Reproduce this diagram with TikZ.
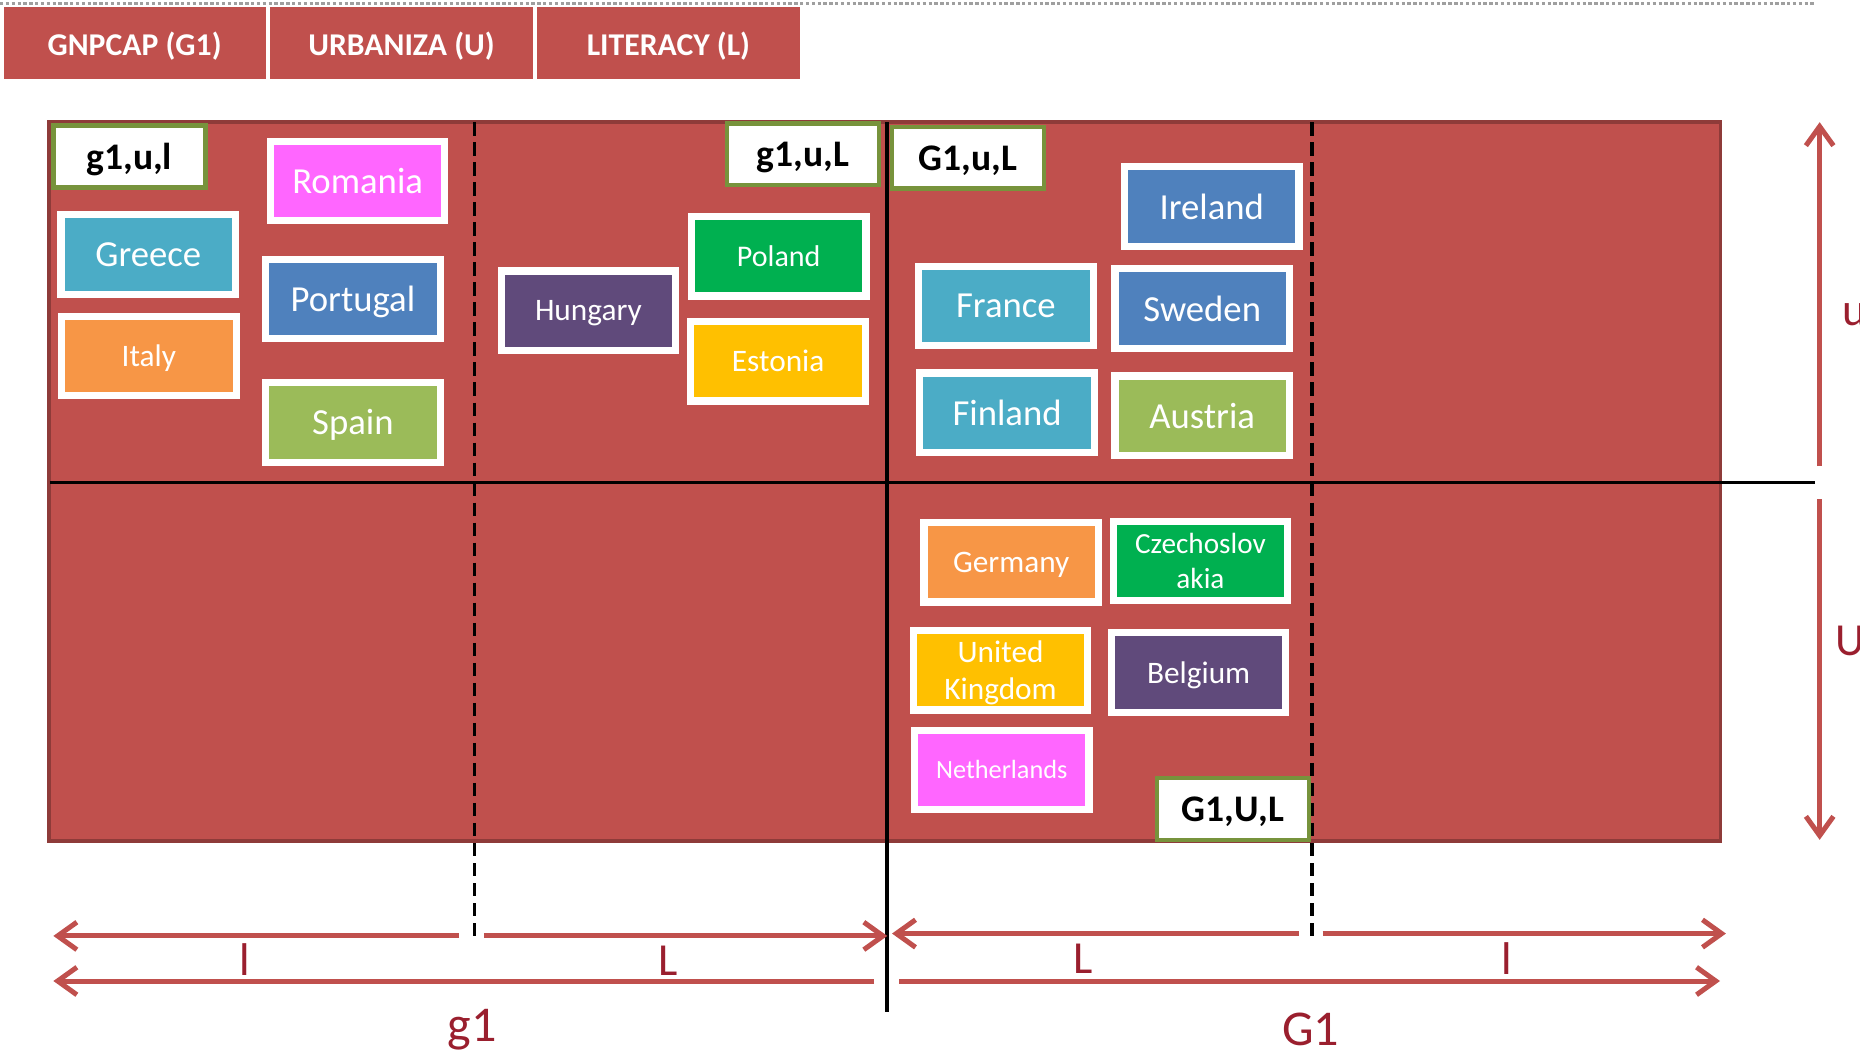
\documentclass[tikz,border=0pt]{standalone}
\usepackage{fontspec}
\setmainfont{Carlito}
\usepackage{tikz}
\usetikzlibrary{arrows.meta,calc,shadows}
\definecolor{tabred}{HTML}{C0504D}
\definecolor{edgered}{HTML}{8E3B39}
\definecolor{labelred}{HTML}{9A1F2E}
\definecolor{tagolive}{HTML}{77933C}
\definecolor{cmagenta}{HTML}{FF66FF}
\definecolor{cteal}{HTML}{4BACC6}
\definecolor{cblue}{HTML}{4F81BD}
\definecolor{corange}{HTML}{F79646}
\definecolor{cgreen}{HTML}{9BBB59}
\definecolor{cpurple}{HTML}{604A7B}
\definecolor{cemerald}{HTML}{00B050}
\definecolor{cgold}{HTML}{FFC000}
\tikzset{
    country/.style args={#1}{fill=#1, draw=white, line width=1.7pt, text=white, minimum width=1.47cm, minimum height=0.67cm, inner sep=1pt, text depth=0pt, align=center, drop shadow={shadow xshift=0.4pt, shadow yshift=-0.7pt, opacity=0.25}},
    group/.style={fill=white, draw=tagolive, line width=1.1pt, minimum width=1.28cm, minimum height=0.52cm, text depth=0pt, font=\fontsize{9}{10}\selectfont\bfseries},
    tab/.style={fill=tabred, draw=white, line width=0.6pt, text=white, minimum width=2.23cm, minimum height=0.63cm, text depth=0pt, font=\fontsize{7.6}{9}\selectfont\bfseries},
    axis/.style={draw=tabred, line width=1.2pt, -{Straight Barb[length=4.6pt,width=6.6pt]}},
    axlabel/.style={text=labelred, font=\fontsize{11}{13}\selectfont}
}

\begin{document}
\begin{tikzpicture}[x=0.01cm, y=-0.01cm]
\useasboundingbox (0,0) rectangle (1568,888);
\draw[gray!75, line width=0.8pt, dash pattern=on 0.8pt off 0.6pt] (0,3) -- (1530,3);
\node[tab] (gnpcap) at (113.5,36.5) {GNPCAP (G1)};
\node[tab] (urbaniza) at (338.5,36.5) {URBANIZA (U)};
\node[tab] (literacy) at (563.5,36.5) {LITERACY (L)};
\node[fill=tabred, draw=edgered, line width=0.9pt, minimum width=14.08cm, minimum height=6.06cm] (plane) at (746,406) {};
\path
(42,407) coordinate (ax-w) (1530,407) coordinate (ax-e)
(748,103) coordinate (ax-n) (748,853) coordinate (ax-s)
(400,103) coordinate (l-n) (400,792) coordinate (l-s)
(1106,103) coordinate (L-n) (1106,790) coordinate (L-s);
\draw[line width=0.7pt] (ax-w) -- (ax-e);
\draw[line width=1pt] (ax-n) -- (ax-s);
\draw[line width=0.8pt, dash pattern=on 3.2pt off 1.6pt] (l-n) -- (l-s) (L-n) -- (L-s);
\path
(45,789) coordinate (gl-w) (387,789) coordinate (gl-e)
(408,789) coordinate (gL-w) (748,789) coordinate (gL-e)
(752,787) coordinate (GL-w) (1095,787) coordinate (GL-e)
(1115,787) coordinate (Gl-w) (1455,787) coordinate (Gl-e)
(45,827) coordinate (g-w) (737,827) coordinate (g-e)
(758,827) coordinate (G-w) (1450,827) coordinate (G-e)
(1534,103) coordinate (u-n) (1534,393) coordinate (u-s)
(1534,421) coordinate (U-n) (1534,708) coordinate (U-s);
\foreach \from/\to in {gl-e/gl-w, gL-w/gL-e, GL-e/GL-w, Gl-w/Gl-e, g-e/g-w, G-w/G-e, u-s/u-n, U-n/U-s}
    \draw[axis] (\from) -- (\to);
\node[axlabel] (lab-l1) at (206,809) {l};
\node[axlabel] (lab-L1) at (563,810) {L};
\node[axlabel] (lab-L2) at (913,808) {L};
\node[axlabel] (lab-l2) at (1270,808) {l};
\node[axlabel, font=\fontsize{12}{14}\selectfont] (lab-g) at (398,868) {g1};
\node[axlabel, font=\fontsize{12}{14}\selectfont] (lab-G) at (1105,868) {G1};
\node[axlabel] (lab-u) at (1563,265) {u};
\node[axlabel] (lab-U) at (1560,540) {U};
\node[group] (gul) at (109,132) {g1,u,l};
\node[group] (guL) at (677,130) {g1,u,L};
\node[group] (GuL) at (816,133) {G1,u,L};
\node[group] (GUL) at (1039.5,682) {G1,U,L};
\foreach \id/\x/\y/\col/\sz/\txt in {
    romania/301.5/152.5/cmagenta/8.8/Romania,
    greece/125/214.5/cteal/8.8/Greece,
    portugal/297.5/252/cblue/8.8/Portugal,
    italy/125.5/300/corange/7.5/Italy,
    spain/297.5/356/cgreen/8.8/Spain,
    hungary/496/262/cpurple/7.5/Hungary,
    poland/656.5/216/cemerald/7.2/Poland,
    estonia/656/304.5/cgold/7.5/Estonia,
    ireland/1021.5/174/cblue/8.8/Ireland,
    france/848/258/cteal/8.8/France,
    sweden/1013.5/260/cblue/8.8/Sweden,
    finland/849/348/cteal/8.8/Finland,
    austria/1013.5/350.5/cgreen/8.8/Austria,
    germany/852.5/474/corange/7.5/Germany,
    czech/1012/473/cemerald/7/{Czechoslov\\akia},
    uk/843.5/565/cgold/7.5/{United\\Kingdom},
    belgium/1010.5/567/cpurple/7.5/Belgium,
    netherlands/844.5/649/cmagenta/6.3/Netherlands} {
    \pgfmathsetmacro{\ls}{1.2*\sz}
    \node[country=\col, font=\fontsize{\sz}{\ls}\selectfont] (\id) at (\x,\y) {\txt};
}
\end{tikzpicture}
\end{document}
